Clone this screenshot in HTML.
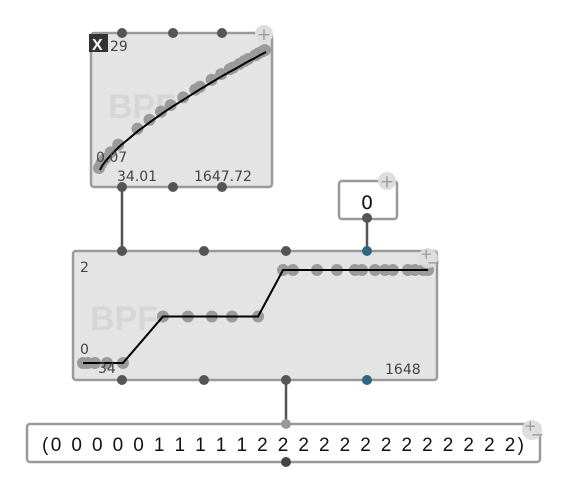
<!DOCTYPE html>
<html><head><meta charset="utf-8"><style>
html,body{margin:0;padding:0;background:#fff;}
svg{display:block;font-family:"DejaVu Sans","Liberation Sans",sans-serif;}
</style></head><body>
<svg id="patch" width="562" height="488" viewBox="0 0 562 488">
 <line x1="122" y1="187" x2="122" y2="251" stroke="#555" stroke-width="2.5"/>
 <line x1="367" y1="219" x2="367" y2="251" stroke="#555" stroke-width="2.5"/>
 <line x1="286" y1="380" x2="286" y2="424" stroke="#555" stroke-width="2.5"/>

 <g>
  <rect x="91" y="33" width="181" height="154" rx="3" fill="#e4e4e4" stroke="#9a9a9a" stroke-width="2.5"/>
  <text x="108" y="118" font-size="34" font-weight="bold" fill="#d6d6d6" font-family="Liberation Sans, sans-serif">BPF</text>
  <g id="topMarks"></g>
  <rect x="89" y="34" width="19" height="18" fill="#333"/>
  <text x="92" y="50" font-size="16" font-weight="bold" fill="#fff" font-family="Liberation Sans, sans-serif">X</text>
  <text x="110" y="51" font-size="14" fill="#444">29</text>
  <text x="96" y="162" font-size="14" fill="#444">0.07</text>
  <text x="117" y="181" font-size="14" fill="#444">34.01</text>
  <text x="194" y="181" font-size="14" fill="#444">1647.72</text>
  <circle cx="264" cy="34" r="9" fill="#dedede"/>
  <text x="264" y="40" font-size="17" fill="#999" text-anchor="middle">+</text>
 </g>

 <g>
  <rect x="339" y="181" width="58" height="38" rx="3" fill="#fff" stroke="#9a9a9a" stroke-width="2.5"/>
  <text x="367" y="209" font-size="19" fill="#111" text-anchor="middle">0</text>
  <circle cx="387" cy="181" r="9" fill="#dedede"/>
  <text x="387" y="187" font-size="17" fill="#999" text-anchor="middle">+</text>
 </g>

 <g>
  <rect x="73" y="251" width="364" height="129" rx="3" fill="#e4e4e4" stroke="#9a9a9a" stroke-width="2.5"/>
  <text x="90" y="330" font-size="34" font-weight="bold" fill="#d6d6d6" font-family="Liberation Sans, sans-serif">BPF</text>
  <g id="midMarks"></g>
  <text x="80" y="272" font-size="14" fill="#444">2</text>
  <text x="80" y="354" font-size="14" fill="#444">0</text>
  <text x="98" y="373" font-size="14" fill="#444">34</text>
  <text x="385" y="374" font-size="14" fill="#444">1648</text>
  <circle cx="428" cy="258" r="10" fill="#dedede" fill-opacity="0.9"/>
  <text x="420" y="259" font-size="15" fill="#999">+</text>
  <text x="427" y="268" font-size="16" fill="#999">−</text>
 </g>

 <g>
  <rect x="27" y="424" width="513" height="38" rx="3" fill="#fff" stroke="#9a9a9a" stroke-width="2.5"/>
  <text id="listText" x="42" y="451" font-size="19" fill="#111" textLength="482" lengthAdjust="spacing" font-family="Liberation Sans, sans-serif"></text>
  <circle cx="532" cy="430" r="10" fill="#dedede"/>
  <text x="524" y="431" font-size="15" fill="#999">+</text>
  <text x="531" y="440" font-size="16" fill="#999">−</text>
 </g>

 <g id="ports"></g>
</svg>
<script>
const xValues = [34,57,90,146,221,408,525,637,731,853,970,1016,1129,1222,1306,1339,1400,1447,1484,1554,1587,1625,1648];
const topYValues = [0.07,1.2,2.3,3.9,5.8,9.7,11.9,13.9,15.5,17.4,19.3,20,21.7,23.1,24.3,24.7,25.6,26.3,26.8,27.7,28.2,28.7,29];
const levelValues = [0,0,0,0,0,1,1,1,1,1,2,2,2,2,2,2,2,2,2,2,2,2,2];
const NS = "http://www.w3.org/2000/svg";
function mk(tag, attrs, parent){const e=document.createElementNS(NS,tag);for(const k in attrs)e.setAttribute(k,attrs[k]);parent.appendChild(e);return e;}
const txS = v => 100 + (v-34)/(1648-34)*166;
const tyS = v => 170 - (v-0.07)/(29-0.07)*118;
const mxS = v => 83 + (v-34)/(1648-34)*345;
const myS = v => 363 - v/2*93;

const topG = document.getElementById('topMarks');
xValues.forEach((x,i)=>{
  const c = mk('circle',{cx:txS(x)-1,cy:tyS(topYValues[i])-2,r:6,fill:'#9a9a9a'},topG);
  
  
});
const tl = mk('polyline',{points:xValues.map((x,i)=>txS(x)+','+tyS(topYValues[i])).join(' '),fill:'none',stroke:'#000','stroke-width':2},topG);



const midG = document.getElementById('midMarks');
xValues.forEach((x,i)=>{
  const c = mk('circle',{cx:mxS(x),cy:myS(levelValues[i]),r:6,fill:'#9a9a9a'},midG);
  
  
});
const pts=[];
levelValues.forEach((v,i)=>{
  if(i===0||i===levelValues.length-1||v!==levelValues[i-1]||v!==levelValues[i+1]) pts.push(mxS(xValues[i])+','+myS(v));
});
const ml = mk('polyline',{points:pts.join(' '),fill:'none',stroke:'#000','stroke-width':2},midG);



document.getElementById('listText').textContent = '(' + levelValues.join(' ') + ')';

const ports = document.getElementById('ports');
const portList = [
 [122,33,'#555'],[173,33,'#555'],[222,33,'#555'],[122,187,'#555'],[173,187,'#555'],[222,187,'#555'],
 [367,218,'#555'],
 [122,251,'#555'],[204,251,'#555'],[286,251,'#555'],[367,251,'#2f6680'],
 [122,380,'#555'],[204,380,'#555'],[286,380,'#555'],[367,380,'#2f6680'],
 [286,424,'#999'],[286,462,'#444']
];
portList.forEach(p=>{
  const c = mk('circle',{cx:p[0],cy:p[1],r:5,fill:p[2]},ports);
  
  
});
</script>
</body></html>
